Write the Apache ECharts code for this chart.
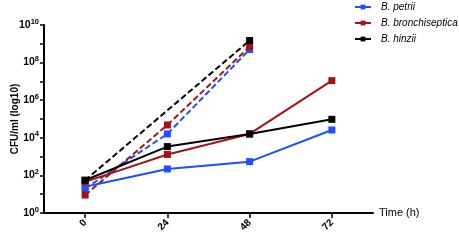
<!DOCTYPE html>
<html>
<head>
<meta charset="utf-8">
<script src="https://cdn.jsdelivr.net/npm/echarts@6/dist/echarts.min.js"></script>
<style>
  html, body { margin: 0; padding: 0; background: #fff; }
  #chart { width: 459px; height: 240px; }
</style>
</head>
<body>
<div id="chart"></div>
<script>
// time points (h)
const hours = [0, 24, 48, 72];
const hoursDashed = [0, 24, 48];

// CFU/ml, solid lines
const petrii = [25, 220, 540, 26000];
const bronchi = [45, 1300, 16000, 11000000];
const hinzii = [55, 3400, 16000, 96000];

// CFU/ml, dashed lines (null = no point)
const petriiDash = [20, 16000, 500000000];
const bronchiDash = [9, 48000, 700000000];
const hinziiDash = [55, null, 1500000000];

const names = ['B. petrii', 'B. bronchiseptica', 'B. hinzii'];
const colors = ['#1f4fff', '#a01414', '#000000'];

const pairs = (xs, ys) => xs.map((x, i) => [x, ys[i]]).filter((p) => p[1] != null);

const chart = echarts.init(document.getElementById('chart'), null, { renderer: 'canvas' });

const solid = [petrii, bronchi, hinzii].map((d, i) => ({
  name: names[i],
  type: 'line',
  data: pairs(hours, d),
  symbol: 'rect',
  symbolSize: 7,
  lineStyle: { width: 2, color: colors[i] },
  itemStyle: { color: colors[i] },
  z: 3,
}));

const dashed = [petriiDash, bronchiDash, hinziiDash].map((d, i) => ({
  name: names[i] + ' dashed',
  type: 'line',
  data: pairs(hoursDashed, d),
  symbol: 'rect',
  symbolSize: 7,
  lineStyle: { width: 2, color: colors[i], type: [6, 3] },
  itemStyle: { color: colors[i] },
  z: 2,
}));

const font = 'Liberation Sans, Arial, sans-serif';

chart.setOption({
  animation: false,
  legend: {
    data: names,
    orient: 'vertical',
    left: 354,
    top: 1,
    padding: 0,
    itemWidth: 16,
    itemHeight: 6,
    itemGap: 4,
    textStyle: {
      fontFamily: font,
      fontSize: 10,
      fontStyle: 'italic',
      color: '#000',
      lineHeight: 12,
      padding: [0, 0, 0, 5],
    },
  },
  grid: { left: 44, right: 86, top: 25, bottom: 27, outerBoundsMode: 'none', containLabel: false },
  xAxis: {
    type: 'value',
    min: -12,
    max: 84,
    name: 'Time (h)',
    nameLocation: 'end',
    nameGap: 6,
    nameTextStyle: { fontFamily: font, fontSize: 11, color: '#000' },
    axisLine: { onZero: false, lineStyle: { color: '#000', width: 2 } },
    axisTick: { show: true, customValues: hours, length: 5, lineStyle: { color: '#000', width: 1.5 } },
    axisLabel: {
      customValues: hours,
      rotate: 45,
      fontFamily: font,
      fontSize: 10,
      fontWeight: 'bold',
      color: '#000',
      margin: 8,
    },
    splitLine: { show: false },
  },
  yAxis: {
    type: 'log',
    logBase: 10,
    min: 1,
    max: 1e10,
    interval: 1,
    name: 'CFU/ml (log10)',
    nameLocation: 'middle',
    nameGap: 24,
    nameMoveOverlap: false,
    nameTextStyle: { fontFamily: font, fontSize: 10, fontWeight: 'bold', color: '#000' },
    axisLine: { show: true, onZero: false, lineStyle: { color: '#000', width: 2 } },
    axisTick: { show: true, length: 4, lineStyle: { color: '#000', width: 1.5 } },
    axisLabel: {
      fontFamily: font,
      color: '#000',
      margin: 5,
      formatter: (v) => {
        const e = Math.round(Math.log10(v));
        if (e % 2 !== 0) return '';
        return '{b|10}{s|' + e + '}';
      },
      rich: {
        b: { fontFamily: font, fontSize: 10.5, fontWeight: 'bold', color: '#000' },
        s: { fontFamily: font, fontSize: 7.5, fontWeight: 'bold', color: '#000', verticalAlign: 'bottom', padding: [0, 0, 7, 0] },
      },
    },
    splitLine: { show: false },
  },
  series: [...dashed, ...solid],
});
</script>
</body>
</html>
